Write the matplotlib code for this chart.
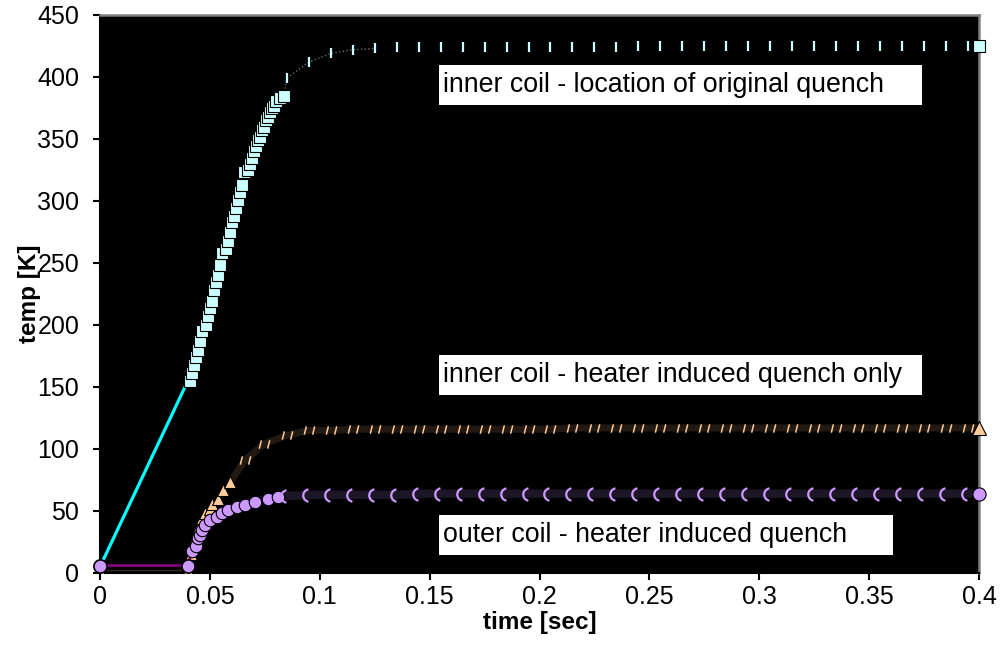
import numpy as np
import matplotlib
matplotlib.use("Agg")
import matplotlib.pyplot as plt
from matplotlib.path import Path
from matplotlib.patches import Rectangle

plt.rcParams['font.family'] = ['Liberation Sans', 'DejaVu Sans']

# ---- data ----
# inner coil - location of original quench
orig_start_t = [0.0, 0.040]
orig_start_v = [5, 155]
orig_rise_t = [0.0410, 0.0419, 0.0428, 0.0437, 0.0446, 0.0455, 0.0464, 0.0482,
               0.0491, 0.0501, 0.0510, 0.0519, 0.0528, 0.0537, 0.0546, 0.0555,
               0.0573, 0.0582, 0.0592, 0.0601, 0.0610, 0.0619, 0.0628, 0.0637,
               0.0646, 0.0655, 0.0673, 0.0683, 0.0692, 0.0701, 0.0710, 0.0719,
               0.0728, 0.0737, 0.0746, 0.0755, 0.0765, 0.0774, 0.0783, 0.0792,
               0.0801, 0.0819, 0.0837]
orig_rise_v = [155, 161, 168, 174, 180, 187, 195, 200, 207, 214, 219, 228, 235,
               240, 248, 258, 261, 268, 275, 283, 288, 294, 301, 307, 313, 323,
               325, 330, 335, 340, 344, 349, 352, 357, 360, 365, 368, 372, 375,
               377, 381, 383, 385]

# shared time grid of the plateau markers
tail_t = [0.085, 0.095, 0.105, 0.115, 0.125, 0.135, 0.145, 0.155, 0.165, 0.175,
          0.185, 0.195, 0.205, 0.215, 0.225, 0.235, 0.245, 0.255, 0.265, 0.275,
          0.285, 0.295, 0.305, 0.315, 0.325, 0.335, 0.345, 0.355, 0.365, 0.375,
          0.385, 0.395]
orig_tail_v = [399, 412, 419, 422, 423, 424, 424, 424, 424, 424, 424, 424, 424,
               424, 424, 424, 425, 425, 425, 425, 425, 425, 425, 425, 425, 425,
               425, 425, 425, 425, 425, 425]
end_t = 0.4
orig_end = 425

# inner coil - heater induced quench only
heat_start_t = [0.0, 0.040]
heat_start_v = [2, 2]
heat_rise_t = [0.0415, 0.0432, 0.0450, 0.0464, 0.0478, 0.0501, 0.0510, 0.0537,
               0.0560, 0.0592]
heat_rise_v = [15, 28, 38, 44, 48, 52, 56, 60, 67, 73]
heat_tail_v = [111, 115, 115, 116, 116, 116, 116, 116, 116, 116, 116, 116, 116,
               117, 117, 117, 117, 117, 117, 117, 117, 117, 117, 117, 117, 117,
               117, 117, 117, 117, 117, 117]
heat_mid_t = [0.066, 0.0746]
heat_mid_v = [91, 104]
heat_end = 117

# outer coil - heater induced quench
outer_start_t = [0.0, 0.040]
outer_start_v = [6, 6]
outer_rise_t = [0.0418, 0.0437, 0.0446, 0.0455, 0.0464, 0.0478, 0.0501, 0.0532,
                0.0555, 0.0582, 0.0623, 0.0660, 0.0705, 0.0765, 0.0810]
outer_rise_v = [18, 22, 28, 31, 35, 39, 43, 45, 48, 51, 53, 55, 57, 60, 61]
outer_tail_v = [62, 63, 63, 63, 63, 63, 64, 64, 64, 64, 64, 64, 64, 64, 64, 64,
                64, 64, 64, 64, 64, 64, 64, 64, 64, 64, 64, 64, 64, 64, 64, 64]
outer_end = 64

x_ticks = [0, 0.05, 0.1, 0.15, 0.2, 0.25, 0.3, 0.35, 0.4]
x_labels = ["0", "0.05", "0.1", "0.15", "0.2", "0.25", "0.3", "0.35", "0.4"]
y_ticks = [0, 50, 100, 150, 200, 250, 300, 350, 400, 450]

labels = ["inner coil - location of original quench",
          "inner coil - heater induced quench only",
          "outer coil - heater induced quench"]

# ---- marker shapes for the overlapped plateau markers ----
slash_pair = Path([(-5, -4), (-3, 4), (3, -4), (5, 4)],
                  [Path.MOVETO, Path.LINETO, Path.MOVETO, Path.LINETO])
left_arc = Path.arc(100, 260)

CYAN_LINE = '#00FFFF'
CYAN = '#CCFFFF'
ORANGE = '#FFCC99'
PURPLE = '#CC99FF'
PURPLE_LINE = '#800080'

fig = plt.figure(figsize=(10.01, 6.58), dpi=100)
ax = fig.add_axes([100 / 1001, 85 / 658, 879 / 1001, 558 / 658])
ax.set_facecolor('black')

# inner coil original quench
ax.plot(orig_start_t + orig_rise_t[:1], orig_start_v + orig_rise_v[:1],
        color=CYAN_LINE, lw=2.3, clip_on=False, zorder=2)
ax.plot(orig_rise_t + tail_t[:5], orig_rise_v + orig_tail_v[:5],
        color='#6a6a6a', lw=1, ls=':', zorder=2)
ax.plot(orig_rise_t, orig_rise_v, ls='none', marker='s', ms=8.5,
        mfc=CYAN, mec='black', mew=0.8, zorder=3)
ax.plot(tail_t, orig_tail_v, ls='none', marker='|', ms=7.5, mew=1.6,
        color=CYAN, zorder=3)
ax.plot([end_t], [orig_end], ls='none', marker='s', ms=8.5, mfc=CYAN,
        mec='black', mew=0.8, clip_on=False, zorder=6)

# inner coil heater induced
ax.plot(heat_start_t + heat_rise_t, heat_start_v + heat_rise_v,
        color='#3a2c1c', lw=1, zorder=2)
ax.plot(heat_rise_t[-1:] + heat_mid_t + tail_t + [end_t],
        heat_rise_v[-1:] + heat_mid_v + heat_tail_v + [heat_end],
        color='#221a12', lw=5, zorder=2)
ax.plot(heat_start_t + heat_rise_t, heat_start_v + heat_rise_v, ls='none',
        marker='^', ms=9, mfc=ORANGE, mec='black', mew=0.8, zorder=3)
ax.plot(heat_mid_t + tail_t, heat_mid_v + heat_tail_v, ls='none',
        marker=slash_pair, ms=7.5, mfc='none', mec=ORANGE, mew=1.1, zorder=3)
ax.plot([end_t], [heat_end], ls='none', marker='^', ms=10, mfc=ORANGE,
        mec='black', mew=0.8, clip_on=False, zorder=6)

# outer coil heater induced
ax.plot(outer_start_t + outer_rise_t[:1], outer_start_v + outer_rise_v[:1],
        color=PURPLE_LINE, lw=2, zorder=4)
ax.plot(outer_rise_t + tail_t + [end_t], outer_rise_v + outer_tail_v + [outer_end],
        color='#1c1626', lw=6, zorder=2)
ax.plot(outer_start_t, outer_start_v, ls='none', marker='o', ms=9.5,
        mfc=PURPLE, mec='black', mew=1.2, clip_on=False, zorder=5)
ax.plot(outer_rise_t, outer_rise_v, ls='none', marker='o', ms=9,
        mfc=PURPLE, mec='black', mew=0.8, zorder=4)
ax.plot(tail_t, outer_tail_v, ls='none', marker=left_arc, ms=9,
        mfc='none', mec=PURPLE, mew=1.6, zorder=4)
ax.plot([end_t], [outer_end], ls='none', marker='o', ms=9.5, mfc=PURPLE,
        mec='black', mew=0.8, clip_on=False, zorder=6)

ax.set_xlim(0, 0.4)
ax.set_ylim(0, 450)
ax.set_xticks(x_ticks)
ax.set_xticklabels(x_labels)
ax.set_yticks(y_ticks)
ax.tick_params(axis='both', direction='out', length=5, width=1.5,
               color='black', labelsize=18)
ax.tick_params(axis='y', pad=10)
ax.tick_params(axis='x', pad=4)

for side in ['left', 'bottom']:
    ax.spines[side].set_color('black')
    ax.spines[side].set_linewidth(1.5)
for side in ['top', 'right']:
    ax.spines[side].set_color('#808080')
    ax.spines[side].set_linewidth(1.8)

ax.set_xlabel("time [sec]", fontsize=17.5, fontweight='bold')
ax.set_ylabel("temp [K]", fontsize=17.5, fontweight='bold')
ax.xaxis.set_label_coords(0.5, -0.068)
ax.yaxis.set_label_coords(-0.067, 0.5)

# white label boxes (axes fraction coordinates)
boxes = [(0.3857, 0.8387, 0.5495, 0.0717),
         (0.3857, 0.3190, 0.5495, 0.0717),
         (0.3857, 0.0323, 0.5165, 0.0717)]
for (bx, by, bw, bh), txt in zip(boxes, labels):
    ax.add_patch(Rectangle((bx, by), bw, bh, transform=ax.transAxes,
                           facecolor='white', edgecolor='none', zorder=7,
                           clip_on=False))
    ax.text(bx + 0.0045, by + bh / 2, txt, transform=ax.transAxes,
            fontsize=19.3, va='center', ha='left', color='black', zorder=8)

fig.savefig("out.png", dpi=100)
